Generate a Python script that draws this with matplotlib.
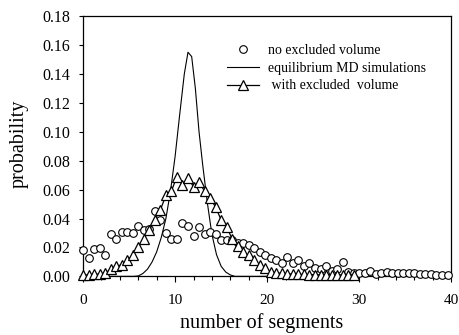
import matplotlib
matplotlib.use("Agg")
import matplotlib.pyplot as plt
import numpy as np

plt.rcParams["font.family"] = ["Liberation Serif", "DejaVu Serif"]

# step between histogram bins (number of segments)
STEP = 0.6

# no excluded volume (open circles)
no_excl = [
    0.018, 0.0126, 0.019, 0.0195, 0.015, 0.029, 0.026, 0.031, 0.031, 0.030,
    0.035, 0.032, 0.033, 0.045, 0.039, 0.030, 0.026, 0.026, 0.037, 0.035,
    0.028, 0.034, 0.029, 0.031, 0.029, 0.025, 0.025, 0.025, 0.023, 0.023,
    0.022, 0.0195, 0.017, 0.015, 0.0126, 0.011, 0.009, 0.0133, 0.009, 0.0115,
    0.007, 0.009, 0.006, 0.005, 0.0073, 0.004, 0.005, 0.0096, 0.003, 0.002,
    0.002, 0.0025, 0.004, 0.0015, 0.0025, 0.003, 0.0025, 0.002, 0.0025, 0.002,
    0.002, 0.0015, 0.0015, 0.0015, 0.0012, 0.0012, 0.0012,
]

# with excluded volume (triangles)
with_excl = [
    0.001, 0.001, 0.0015, 0.0015, 0.002, 0.005, 0.007, 0.008, 0.011, 0.015,
    0.020, 0.026, 0.032, 0.039, 0.046, 0.056, 0.059, 0.069, 0.063, 0.068,
    0.062, 0.065, 0.059, 0.054, 0.048, 0.039, 0.034, 0.026, 0.021, 0.017,
    0.0145, 0.011, 0.008, 0.0055, 0.003, 0.0025, 0.002, 0.0018, 0.0015, 0.0015,
    0.0013, 0.0012, 0.0012, 0.001, 0.001, 0.001, 0.001, 0.001, 0.001, 0.001,
]

# equilibrium MD simulations (solid line)
md_x = [0.0, 5.5, 6.0, 6.5, 7.0, 7.5, 8.0, 8.5, 9.0, 9.5, 10.0, 10.5, 11.0,
        11.4, 11.8, 12.2, 12.6, 13.0, 13.5, 14.0, 14.5, 15.0, 15.5, 16.0,
        16.5, 40.0]
md_y = [0.0, 0.0, 0.0003, 0.002, 0.005, 0.010, 0.017, 0.027, 0.040, 0.059,
        0.083, 0.112, 0.140, 0.155, 0.152, 0.130, 0.100, 0.077, 0.051, 0.029,
        0.015, 0.007, 0.003, 0.001, 0.0, 0.0]

x_circ = np.arange(len(no_excl)) * STEP
x_tri = np.arange(len(with_excl)) * STEP

fig = plt.figure(figsize=(4.59, 3.35), dpi=100)
ax = fig.add_axes([0.181, 0.175, 0.802, 0.777])

ax.plot(x_circ, no_excl, "o", mfc="white", mec="black", mew=0.8,
        markersize=5.5, linestyle="none", label="no excluded volume",
        zorder=3, clip_on=False)
ax.plot(md_x, md_y, "-", color="black", linewidth=0.8,
        label="equilibrium MD simulations", zorder=2)
ax.plot(x_tri, with_excl, "-^", color="black", mfc="white", mec="black",
        mew=0.9, markersize=7.5, linewidth=0.9,
        label=" with excluded  volume", zorder=4, clip_on=False)

ax.set_xlim(0, 40)
ax.set_ylim(0, 0.18)
ax.set_xticks([0, 10, 20, 30, 40])
ax.set_xticks(np.arange(0, 41, 2), minor=True)
ax.set_yticks(np.arange(0, 0.181, 0.02))
ax.yaxis.set_major_formatter(matplotlib.ticker.FormatStrFormatter("%.2f"))

ax.tick_params(axis="x", which="major", direction="out", length=4,
               width=0.8, pad=9, labelsize=11)
ax.tick_params(axis="x", which="minor", direction="out", length=3, width=0.8)
ax.tick_params(axis="y", direction="out", length=3, width=0.8, pad=6,
               labelsize=11.5)
for s in ax.spines.values():
    s.set_linewidth(0.9)

ax.set_xlabel("number of segments", fontsize=14.5)
ax.set_ylabel("probability", fontsize=14.5)
ax.xaxis.set_label_coords(0.485, -0.141)
ax.yaxis.set_label_coords(-0.147, 0.51)

ax.legend(loc="upper left", bbox_to_anchor=(0.375, 0.915), frameon=False,
          fontsize=10, handlelength=2.3, handletextpad=0.65,
          labelspacing=0.35, borderaxespad=0)

fig.savefig("out.png", dpi=100)
